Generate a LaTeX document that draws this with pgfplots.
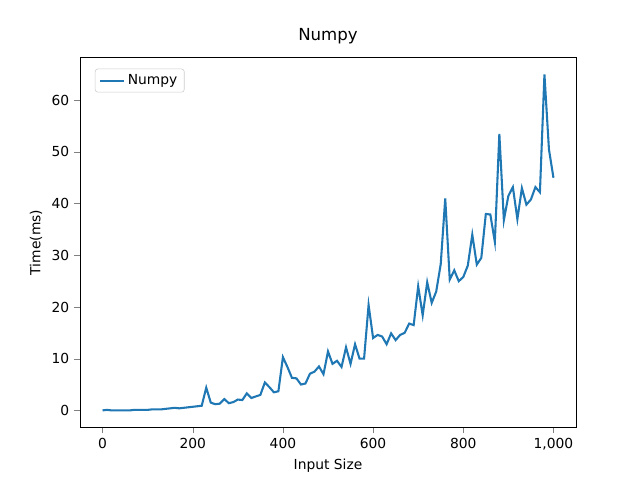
\documentclass[border=0pt]{standalone}
\usepackage{pgfplots}
\pgfplotsset{compat=1.18}
\usepackage{fontspec}
\setmainfont{DejaVu Sans}
\definecolor{mplblue}{HTML}{1F77B4}
\begin{document}
\fontsize{10}{12}\selectfont
\begin{tikzpicture}
\begin{axis}[at={(0,0)},anchor=south west,scale only axis,width=4.96in,height=3.696in,
xmin=-50,xmax=1050,ymin=-3.25,ymax=68.25,
xtick={0,200,400,600,800,1000},ytick={0,10,20,30,40,50,60},
tick align=outside,tick pos=left,
/pgf/number format/assume math mode=true,
ticklabel style={font=\fontsize{10}{12}\selectfont},
title={\fontsize{12}{14}\selectfont Numpy},
xlabel={Input Size},ylabel={Time(ms)},
legend pos=north west,legend cell align=left,
legend style={draw=black!20,rounded corners=2pt,font=\fontsize{10}{12}\selectfont},
]
\addplot[mplblue,line width=1.5pt] coordinates {
(0,0)(10,0.1)(20,0)(30,0)(40,0)(50,0)(60,0)(70,0.1)(80,0.1)(90,0.1)(100,0.1)(110,0.2)(120,0.2)(130,0.2)(140,0.3)(150,0.4)(160,0.5)(170,0.4)(180,0.5)(190,0.6)(200,0.7)(210,0.8)(220,0.9)(230,4.4)(240,1.5)(250,1.2)(260,1.3)(270,2.2)(280,1.4)(290,1.6)(300,2.1)(310,2.0)(320,3.3)(330,2.4)(340,2.7)(350,3.0)(360,5.4)(370,4.5)(380,3.5)(390,3.7)(400,10.3)(410,8.4)(420,6.3)(430,6.2)(440,5.0)(450,5.2)(460,7.1)(470,7.5)(480,8.5)(490,7.0)(500,11.4)(510,9.0)(520,9.6)(530,8.4)(540,12.2)(550,9.0)(560,12.8)(570,10)(580,10)(590,20.4)(600,14)(610,14.6)(620,14.3)(630,12.8)(640,14.9)(650,13.6)(660,14.6)(670,15)(680,16.8)(690,16.5)(700,24)(710,18.4)(720,24.8)(730,20.8)(740,23)(750,28.3)(760,41)(770,25.3)(780,27.1)(790,25)(800,25.8)(810,28)(820,34)(830,28.2)(840,29.5)(850,38)(860,37.9)(870,32.6)(880,53.5)(890,36.8)(900,41.5)(910,43.2)(920,37)(930,43)(940,39.8)(950,40.8)(960,43.2)(970,42.2)(980,65)(990,50.5)(1000,45)};
\addlegendentry{Numpy}
\end{axis}
\path[use as bounding box] (-0.8in,-0.528in) rectangle (5.6in,4.272in);
\end{tikzpicture}
\end{document}
